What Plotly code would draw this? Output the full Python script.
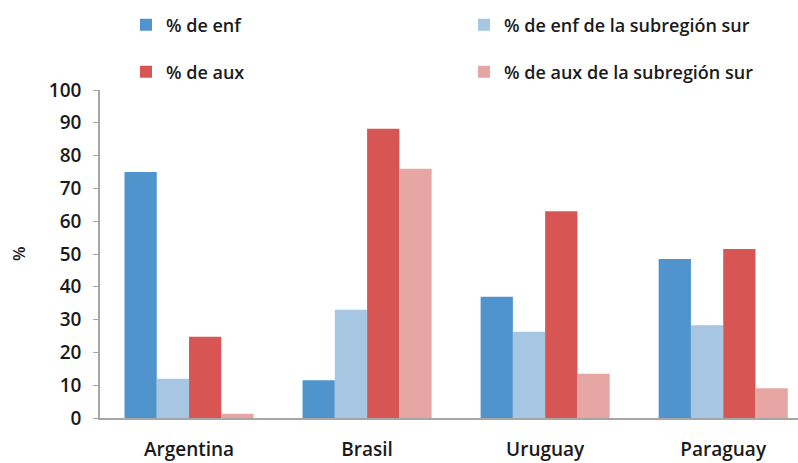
import plotly.graph_objects as go

categories = ["Argentina", "Brasil", "Uruguay", "Paraguay"]
enf = [75, 11.5, 37, 48.5]
enf_sur = [12, 33, 26.3, 28.3]
aux = [24.8, 88.2, 63, 51.5]
aux_sur = [1.3, 76, 13.5, 9.1]
y_ticks = [0, 10, 20, 30, 40, 50, 60, 70, 80, 90, 100]

names = ["% de enf", "% de enf de la subregión sur", "% de aux", "% de aux de la subregión sur"]
colors = ["#4F94CD", "#A6C6E2", "#D75653", "#E6A6A3"]
series = [enf, enf_sur, aux, aux_sur]
legends = ["legend", "legend2", "legend3", "legend4"]
leg_pos = [(126, 25), (464, 25), (126, 72), (464, 72)]

W, H = 798, 463
font = "'Open Sans', Lato, sans-serif"
txt_color = "#1a1a1a"

fig = go.Figure()
for n, c, s, lg in zip(names, colors, series, legends):
    fig.add_trace(go.Bar(x=categories, y=s, name=n, marker=dict(color=c, line=dict(width=0)),
                         legend=lg, showlegend=True))

layout_legends = {}
for lg, (px, py) in zip(legends, leg_pos):
    layout_legends[lg] = dict(xref="container", yref="container", x=px / W, y=1 - py / H,
                              xanchor="left", yanchor="middle", bgcolor="rgba(0,0,0,0)",
                              font=dict(size=18, family=font, color=txt_color, weight=600))

fig.update_layout(
    width=W, height=H, showlegend=True,
    margin=dict(l=100, r=0, t=90, b=45, autoexpand=False),
    paper_bgcolor="white", plot_bgcolor="white",
    barmode="group", bargap=0.275, bargroupgap=0,
    font=dict(family=font, color=txt_color),
    xaxis=dict(range=[-0.5, 3.42], showline=True, linecolor="#A6A6A6", linewidth=1.5,
               ticks="", tickfont=dict(size=19, family=font, color=txt_color, weight=600),
               ticklabelstandoff=13, showgrid=False, fixedrange=True),
    yaxis=dict(range=[0, 100], tickvals=y_ticks, showline=True, linecolor="#A6A6A6",
               linewidth=1.5, ticks="outside", ticklen=5, tickcolor="#A6A6A6",
               tickfont=dict(size=19, family=font, color=txt_color, weight=600),
               ticklabelstandoff=8, showgrid=False, zeroline=False),
    annotations=[dict(text="%", xref="paper", yref="paper", x=-82 / 698, y=0.5,
                      xanchor="center", yanchor="middle", textangle=-90, showarrow=False,
                      font=dict(size=17, family=font, color=txt_color, weight=600))],
    **layout_legends,
)
fig.write_html("out.html")
